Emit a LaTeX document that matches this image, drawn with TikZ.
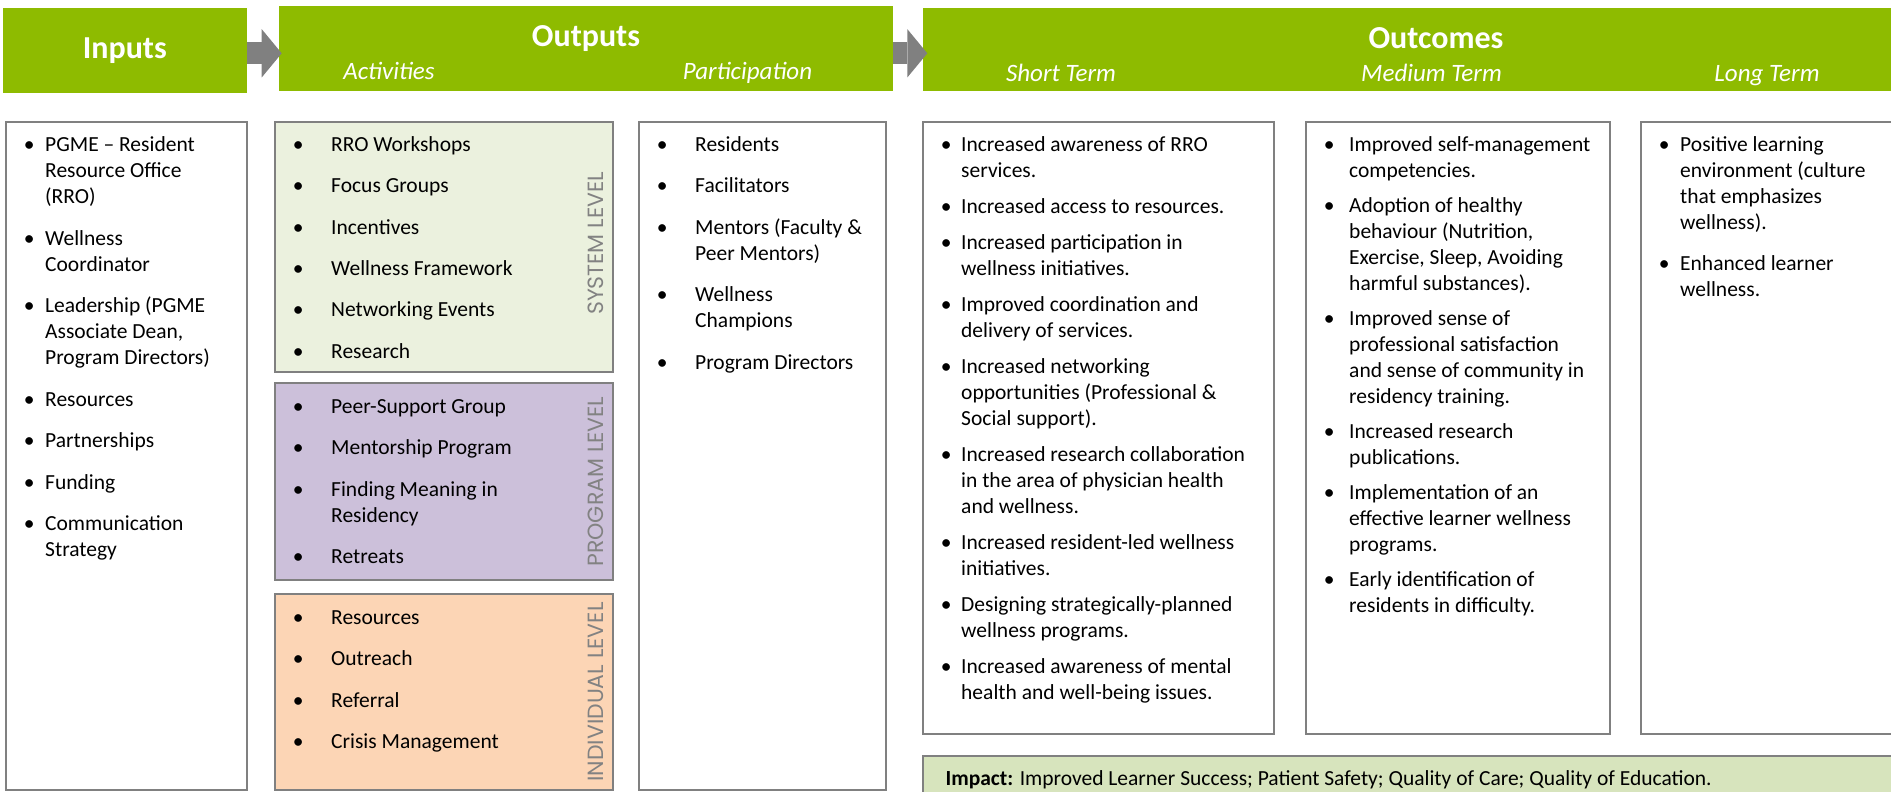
\documentclass[tikz,border=0pt]{standalone}
\usepackage{fontspec}
\setmainfont{Carlito}
\newfontfamily\levelfont{Poppins}
\usetikzlibrary{positioning,arrows.meta}

\definecolor{hdgreen}{RGB}{142,187,0}
\definecolor{arrowgray}{RGB}{128,128,128}
\definecolor{linegray}{RGB}{128,128,128}
\definecolor{sysfill}{RGB}{235,241,222}
\definecolor{progfill}{RGB}{204,192,218}
\definecolor{indfill}{RGB}{252,213,181}
\definecolor{impactfill}{RGB}{215,228,189}
\definecolor{levelgray}{RGB}{130,130,130}

% bullet sits on the left edge, the text starts \bw further on
\newlength{\bw}
\newcommand{\itm}{\strut\makebox[\bw][l]{\makebox[0pt]{\textbullet}}}
\newcommand{\cnt}{\makebox[\bw]{}}

\begin{document}
\begin{tikzpicture}[x=1pt, y=-1pt,
    header/.style={fill=hdgreen, inner sep=0pt, outer sep=0pt, anchor=north west},
    title/.style={text=white, font=\fontsize{32}{38}\selectfont\bfseries},
    subtitle/.style={text=white, anchor=base, font=\fontsize{25}{30}\selectfont\itshape},
    panel/.style={draw=linegray, line width=2.2pt, fill=white, inner sep=0pt, outer sep=0pt, anchor=north west},
    list/.style={align=left, inner sep=0pt, anchor=north west, font=\fontsize{21.5}{26}\selectfont,
      execute at begin node={\global\bw=#1\relax}},
    level/.style={rotate=90, text=levelgray, font=\levelfont\fontsize{22}{26}\selectfont},
    flow/.style={draw=arrowgray, line width=22pt, -{Triangle[length=20pt, width=48.4pt, line width=0pt]}}]

\useasboundingbox (0,0) rectangle (1891,792);

% green headers
\node[header, title, minimum width=243.7, minimum height=85] (inputs) at (3,8.3) {Inputs};
\node[header, minimum width=613.4, minimum height=85] (outputs) at (279.3,6) {};
\node[header, minimum width=980, minimum height=82.7] (outcomes) at (923.3,8.3) {};

\node[title, anchor=base] (outtitle) at (586,47) {Outputs};
\node[subtitle] (activities) at (389,80) {Activities};
\node[subtitle] (participation) at (747.5,80) {Participation};
\node[title, anchor=base] (outctitle) at (1436,48.3) {Outcomes};
\node[subtitle] (short) at (1061,81.5) {Short Term};
\node[subtitle] (medium) at (1431.5,81.5) {Medium Term};
\node[subtitle] (long) at (1767,81.5) {Long Term};

% gray block arrows between the headers
\coordinate (a1) at ([yshift=-2.5pt]inputs.east);
\coordinate (a2) at ([yshift=-4.8pt]outputs.east);
\draw[flow, shorten >=-2.4pt] (a1) -- (a1 -| outputs.west);
\draw[flow, shorten >=-4pt] (a2) -- (a2 -| outcomes.west);

% boxes
\node[panel, minimum width=241, minimum height=668] (inputbox) at (6,122) {};
\node[panel, fill=sysfill, minimum width=338, minimum height=250] (system) at (275,122) {};
\node[panel, fill=progfill, minimum width=338, minimum height=197, below=11pt of system] (program) {};
\node[panel, fill=indfill, minimum width=338, minimum height=196, below=14pt of program] (individual) {};
\node[panel, minimum width=247, minimum height=668] (partbox) at (639,122) {};
\node[panel, minimum width=351, minimum height=612] (shortbox) at (923,122) {};
\node[panel, minimum width=304, minimum height=612] (mediumbox) at (1306,122) {};
\node[panel, minimum width=300, minimum height=612] (longbox) at (1641,122) {};
\node[panel, fill=impactfill, minimum width=1000, minimum height=60] (impact) at (923,756) {};

\node[level] (syslevel) at ([xshift=-17pt, yshift=3.7pt]system.east) {SYSTEM LEVEL};
\node[level] (proglevel) at ([xshift=-17pt]program.east) {PROGRAM LEVEL};
\node[level] (indlevel) at ([xshift=-17pt]individual.east) {INDIVIDUAL LEVEL};

% lists
\node[list=16pt] (inputlist) at ([shift={(23,11.3)}]inputbox.north west) {
  \itm PGME – Resident\\ \cnt Resource Office\\ \cnt (RRO)\\[15.5pt]
  \itm Wellness\\ \cnt Coordinator\\[15.5pt]
  \itm Leadership (PGME\\ \cnt Associate Dean,\\ \cnt Program Directors)\\[15.5pt]
  \itm Resources\\[15.5pt]
  \itm Partnerships\\[15.5pt]
  \itm Funding\\[15.5pt]
  \itm Communication\\ \cnt Strategy};

\node[list=33pt] (syslist) at ([shift={(23,10.8)}]system.north west) {
  \itm RRO Workshops\\[15.4pt]
  \itm Focus Groups\\[15.4pt]
  \itm Incentives\\[15.4pt]
  \itm Wellness Framework\\[15.4pt]
  \itm Networking Events\\[15.4pt]
  \itm Research};

\node[list=33pt] (proglist) at ([shift={(23,11.8)}]program.north west) {
  \itm Peer-Support Group\\[15.4pt]
  \itm Mentorship Program\\[15.4pt]
  \itm Finding Meaning in\\ \cnt Residency\\[15.4pt]
  \itm Retreats};

\node[list=33pt] (indlist) at ([shift={(23,11.8)}]individual.north west) {
  \itm Resources\\[15.4pt]
  \itm Outreach\\[15.4pt]
  \itm Referral\\[15.4pt]
  \itm Crisis Management};

\node[list=33pt] (partlist) at ([shift={(23,11)}]partbox.north west) {
  \itm Residents\\[15.5pt]
  \itm Facilitators\\[15.5pt]
  \itm Mentors (Faculty \&\\ \cnt Peer Mentors)\\[15.5pt]
  \itm Wellness\\ \cnt Champions\\[15.5pt]
  \itm Program Directors};

\node[list=15pt] (shortlist) at ([shift={(23,11)}]shortbox.north west) {
  \itm Increased awareness of RRO\\ \cnt services.\\[10pt]
  \itm Increased access to resources.\\[10pt]
  \itm Increased participation in\\ \cnt wellness initiatives.\\[10pt]
  \itm Improved coordination and\\ \cnt delivery of services.\\[10pt]
  \itm Increased networking\\ \cnt opportunities (Professional \&\\ \cnt Social support).\\[10pt]
  \itm Increased research collaboration\\ \cnt in the area of physician health\\ \cnt and wellness.\\[10pt]
  \itm Increased resident-led wellness\\ \cnt initiatives.\\[10pt]
  \itm Designing strategically-planned\\ \cnt wellness programs.\\[10pt]
  \itm Increased awareness of mental\\ \cnt health and well-being issues.};

\node[list=20pt] (mediumlist) at ([shift={(23,11)}]mediumbox.north west) {
  \itm Improved self-management\\ \cnt competencies.\\[9pt]
  \itm Adoption of healthy\\ \cnt behaviour (Nutrition,\\ \cnt Exercise, Sleep, Avoiding\\ \cnt harmful substances).\\[9pt]
  \itm Improved sense of\\ \cnt professional satisfaction\\ \cnt and sense of community in\\ \cnt residency training.\\[9pt]
  \itm Increased research\\ \cnt publications.\\[9pt]
  \itm Implementation of an\\ \cnt effective learner wellness\\ \cnt programs.\\[9pt]
  \itm Early identification of\\ \cnt residents in difficulty.};

\node[list=16pt] (longlist) at ([shift={(23,11)}]longbox.north west) {
  \itm Positive learning\\ \cnt environment (culture\\ \cnt that emphasizes\\ \cnt wellness).\\[15.5pt]
  \itm Enhanced learner\\ \cnt wellness.};

\node[anchor=base west, font=\fontsize{21.5}{25}\selectfont] (impacttext) at ([shift={(19,29)}]impact.north west)
  {\textbf{Impact:} Improved Learner Success; Patient Safety; Quality of Care; Quality of Education.};
\end{tikzpicture}
\end{document}
